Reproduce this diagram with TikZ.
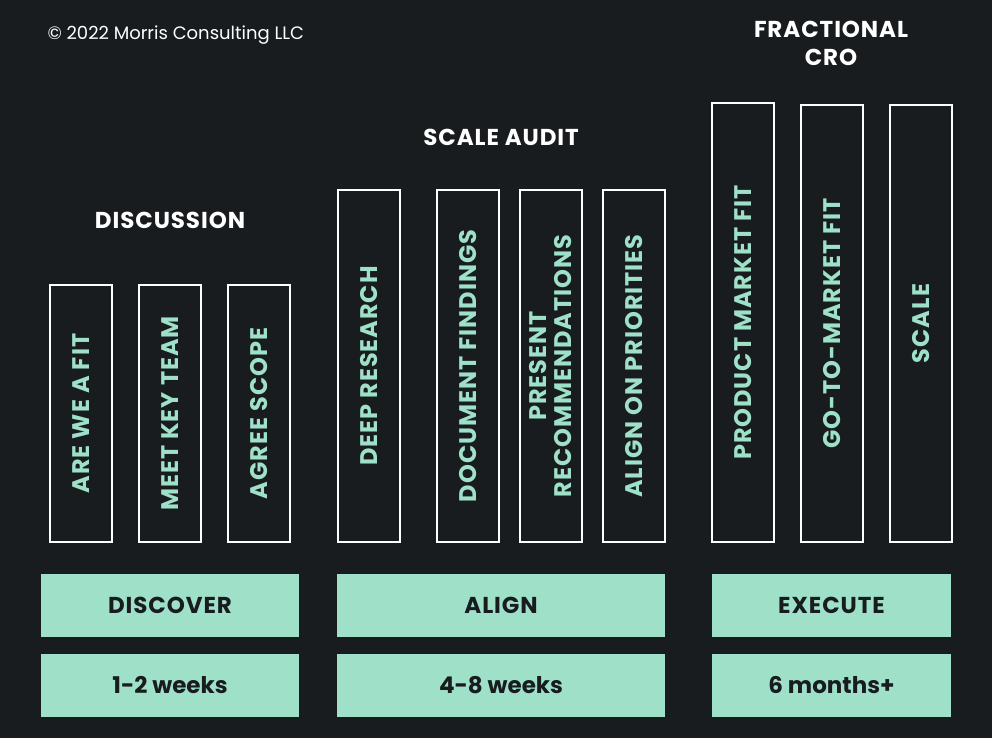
\documentclass[tikz,border=0pt]{standalone}
\usepackage{fontspec}
\setmainfont{Poppins}
\newfontfamily\capsfont[LetterSpace=4]{Poppins}
\usetikzlibrary{positioning}
\definecolor{bgdark}{HTML}{181C1F}
\definecolor{mint}{HTML}{9EE0C8}

\begin{document}
\begin{tikzpicture}[x=1pt, y=-1pt,
    stage/.style={draw=white, line width=1.5pt, rotate=90, minimum height=62pt,
      inner sep=0pt, text=mint, align=center,
      font=\capsfont\bfseries\fontsize{24}{25}\selectfont},
    phase/.style={fill=mint, minimum width=#1, minimum height=63pt, inner sep=0pt,
      text=bgdark, font=\capsfont\bfseries\fontsize{23}{25}\selectfont},
    heading/.style={text=white, align=center, font=\capsfont\bfseries\fontsize{23}{28}\selectfont}]
    \fill[bgdark] (0,0) rectangle (992,738);
    \useasboundingbox (0,0) rectangle (992,738);

    \node[text=white, anchor=west, font=\fontsize{18}{20}\selectfont] (copy) at (44,35) {© 2022 Morris Consulting LLC};

    % discover
    \node[heading] (discussion) at (170,220) {DISCUSSION};
    \node[stage, minimum width=257pt] (fit) at (81,413.5) {ARE WE A FIT};
    \node[stage, minimum width=257pt] (team) at (170,413.5) {MEET KEY TEAM};
    \node[stage, minimum width=257pt] (scope) at (259,413.5) {AGREE SCOPE};

    % align
    \node[heading] (audit) at (501,137) {SCALE AUDIT};
    \node[stage, minimum width=352pt] (research) at (369,366) {DEEP RESEARCH};
    \node[stage, minimum width=352pt] (findings) at (468,366) {DOCUMENT FINDINGS};
    \node[stage, minimum width=352pt] (recs) at (551,366) {PRESENT\\RECOMMENDATIONS};
    \node[stage, minimum width=352pt] (priorities) at (634,366) {ALIGN ON PRIORITIES};

    % execute
    \node[heading] (cro) at (831,43) {FRACTIONAL\\CRO};
    \node[stage, minimum width=439pt] (pmf) at (743,322.5) {PRODUCT MARKET FIT};
    \node[stage, minimum width=437pt] (gtm) at (832,323.5) {GO-TO-MARKET FIT};
    \node[stage, minimum width=437pt] (scale) at (921,323.5) {SCALE};

    % phases
    \node[phase=258pt] (discover) at (170,605.5) {DISCOVER};
    \node[phase=258pt, font=\bfseries\fontsize{23}{25}\selectfont] (weeks1) at (170,685.5) {1-2 weeks};
    \node[phase=328pt] (alignph) at (501,605.5) {ALIGN};
    \node[phase=328pt, font=\bfseries\fontsize{23}{25}\selectfont] (weeks2) at (501,685.5) {4-8 weeks};
    \node[phase=239pt] (execute) at (831.5,605.5) {EXECUTE};
    \node[phase=239pt, font=\bfseries\fontsize{23}{25}\selectfont] (months) at (831.5,685.5) {6 months+};
\end{tikzpicture}
\end{document}
